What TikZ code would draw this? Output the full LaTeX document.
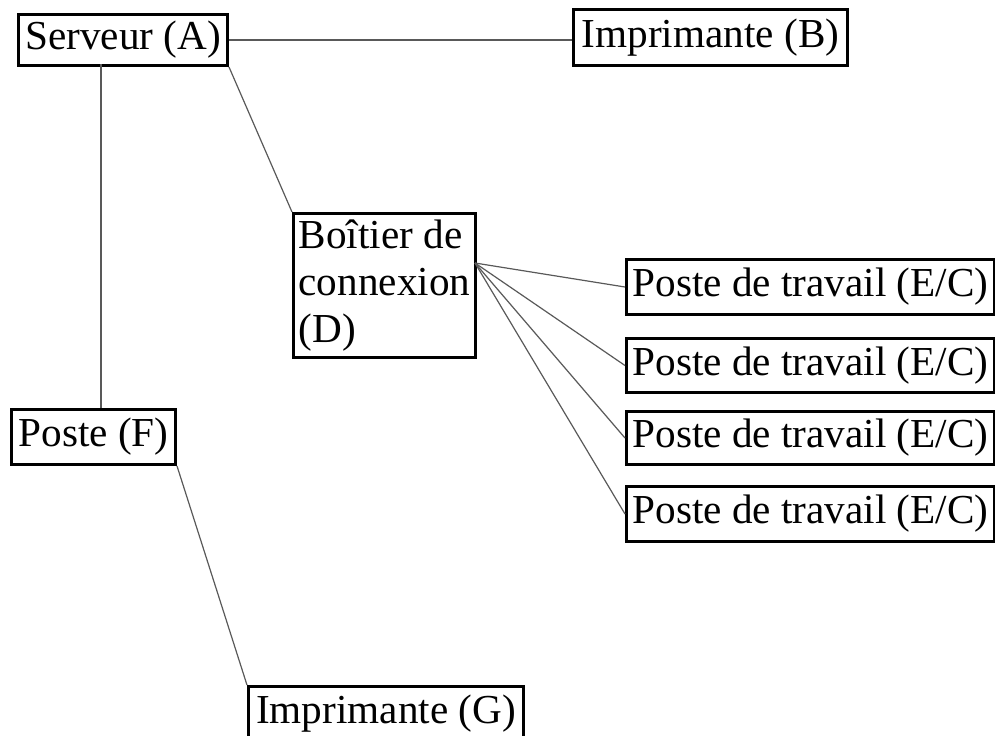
\documentclass[tikz,border=0pt]{standalone}
\usepackage{fontspec}
\setmainfont{Liberation Serif}

\begin{document}
\begin{tikzpicture}[
    x=0.5pt, y=-0.5pt,
    box/.style  ={draw=black, line width=1.5pt, anchor=north west, align=left,
                  inner xsep=1pt, inner ysep=0pt,
                  font=\fontsize{20.6pt}{23.5pt}\selectfont},
    link/.style ={draw=black!65, line width=0.6pt},
  ]
  % --- page ---
  \clip (0,0) rectangle (995,735);

  % --- server side ---
  \node[box, minimum width=104.5pt, minimum height=25.5pt] (srvA) at (17,13)  {Serveur (A)};
  \node[box, minimum width=137pt,   minimum height=28pt]   (prnB) at (572,8)  {Imprimante (B)};
  \node[box, minimum width=91pt,    minimum height=72pt]   (boxD) at (292,212)
    {Bo\^{\i}tier de\\connexion\\(D)};

  % --- workstations ---
  \node[box, minimum width=184pt, minimum height=27.5pt] (wsE1) at (625,258) {Poste de travail (E/C)};
  \node[box, minimum width=184pt, minimum height=27pt]   (wsE2) at (625,337) {Poste de travail (E/C)};
  \node[box, minimum width=184pt, minimum height=26.5pt] (wsE3) at (625,410) {Poste de travail (E/C)};
  \node[box, minimum width=184pt, minimum height=27.5pt] (wsE4) at (625,485) {Poste de travail (E/C)};

  % --- left branch ---
  \node[box, minimum width=82pt,    minimum height=27.5pt] (posF) at (10,408)  {Poste (F)};
  \node[box, minimum width=137.5pt, minimum height=27.5pt] (prnG) at (247,685) {Imprimante (G)};

  % --- links ---
  \coordinate (hubD) at (475,263);
  \coordinate (tapA) at (101,64);
  \draw[link] (srvA.east) -- (srvA.east -| prnB.west);
  \draw[link] (srvA.south east) -- (boxD.north west);
  \draw[link] (tapA) -- (tapA |- posF.north);
  \foreach \ws in {wsE1,wsE2,wsE3,wsE4}
    \draw[link] (hubD) -- (\ws.west);
  \draw[link] (posF.south east) -- (prnG.north west);
\end{tikzpicture}
\end{document}
